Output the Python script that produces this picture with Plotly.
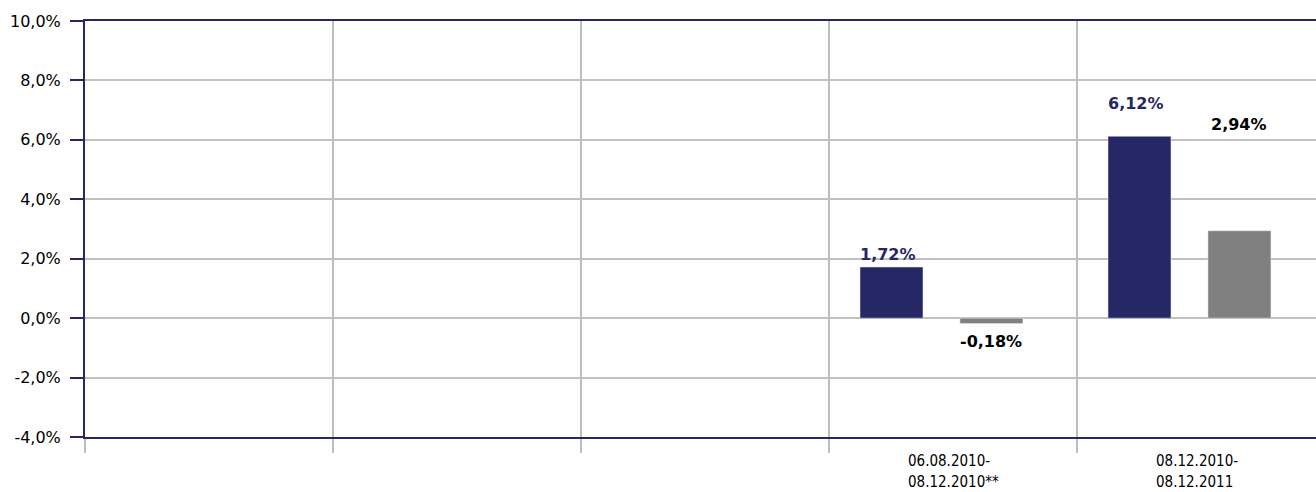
import plotly.graph_objects as go

# ---- data ----
category_pos = [0, 1, 2, 3, 4]
label_line1 = ["", "", "", "06.08.2010-", "08.12.2010-"]
label_line2 = ["", "", "", "08.12.2010**", "08.12.2011"]
series_a = [None, None, None, 1.72, 6.12]   # navy
series_b = [None, None, None, -0.18, 2.94]  # gray
label_a = ["", "", "", "1,72%", "6,12%"]
label_b = ["", "", "", "-0,18%", "2,94%"]
label_a_y = [None, None, None, 2.13, 7.24]
label_b_y = [None, None, None, -0.77, 6.53]
y_ticks = [-4, -2, 0, 2, 4, 6, 8, 10]

NAVY = "#262765"
GRAY = "#808080"
GRID = "#c0c0c0"
FONT = "DejaVu Sans"
FONT_COND = "DejaVu Sans Condensed, DejaVu Sans"

fig = go.Figure()
fig.add_trace(go.Bar(x=category_pos, y=series_a, marker_color=NAVY,
                     width=0.254, offset=-0.375, showlegend=False))
fig.add_trace(go.Bar(x=category_pos, y=series_b, marker_color=GRAY,
                     width=0.254, offset=0.028, showlegend=False))

annotations = []
for i, x in enumerate(category_pos):
    if label_a[i]:
        annotations.append(dict(x=x - 0.262, y=label_a_y[i], xref="x", yref="y",
                                text="<b>" + label_a[i] + "</b>", showarrow=False,
                                font=dict(family=FONT, size=16, color=NAVY)))
    if label_b[i]:
        annotations.append(dict(x=x + 0.153, y=label_b_y[i], xref="x", yref="y",
                                text="<b>" + label_b[i] + "</b>", showarrow=False,
                                font=dict(family=FONT, size=16, color="#000000")))
    if label_line1[i]:
        annotations.append(dict(x=x - 0.185, y=-0.057, xref="x", yref="paper",
                                xanchor="left", yanchor="middle", text=label_line1[i],
                                showarrow=False, borderpad=0,
                                font=dict(family=FONT_COND, size=15, color="#000")))
        annotations.append(dict(x=x - 0.185, y=-0.109, xref="x", yref="paper",
                                xanchor="left", yanchor="middle", text=label_line2[i],
                                showarrow=False, borderpad=0,
                                font=dict(family=FONT_COND, size=15, color="#000")))

fig.update_layout(
    width=1316, height=492,
    margin=dict(l=85, r=0, t=21, b=55),
    plot_bgcolor="white", paper_bgcolor="white",
    barmode="overlay",
    font=dict(family=FONT, size=16, color="#000"),
    annotations=annotations,
    xaxis=dict(
        range=[-0.5, -0.5 + 1231 / 248],
        tickvals=category_pos, ticktext=[""] * len(category_pos),
        showgrid=False, ticks="", zeroline=False,
        showline=True, mirror=True, linecolor=NAVY, linewidth=2,
        minor=dict(tick0=-0.5, dtick=1, ticks="outside", ticklen=14,
                   tickcolor="#bdbdbd", tickwidth=2, showgrid=True,
                   gridcolor="#bdbdbd", gridwidth=2),
    ),
    yaxis=dict(
        range=[-4, 10], tickvals=y_ticks,
        ticktext=[f"{v:.1f}".replace(".", ",") + "%" for v in y_ticks],
        ticks="outside", ticklen=13, tickwidth=2, tickcolor=NAVY,
        ticklabelstandoff=6,
        showgrid=True, gridcolor=GRID, gridwidth=1.5, zeroline=False,
        showline=True, linecolor=NAVY, linewidth=2,
        tickfont=dict(family=FONT, size=16, color="#000"),
    ),
)

fig.write_html("out.html", config={"displayModeBar": False},
               post_script="document.body.style.margin='0';document.body.style.padding='0';document.body.style.overflow='hidden';")
